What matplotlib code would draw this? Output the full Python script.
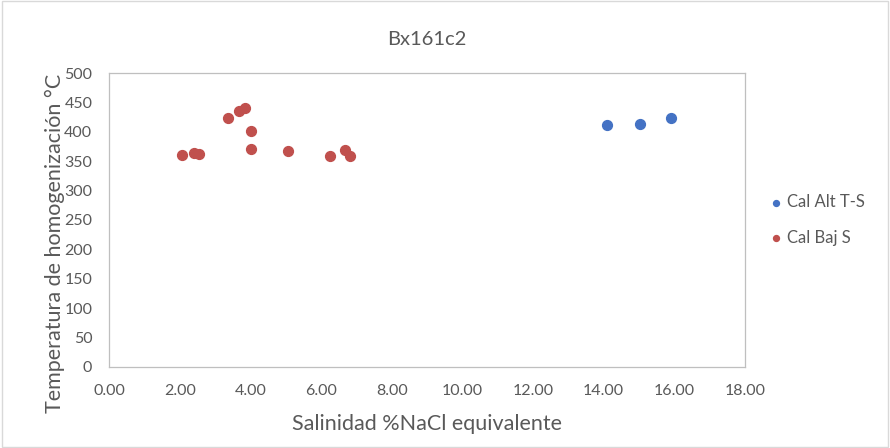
import matplotlib.pyplot as plt

plt.rcParams['font.family'] = ['Lato', 'DejaVu Sans']

# salinidad (% NaCl eq.) y temperatura de homogenizacion
alt_x = [14.10, 15.02, 15.90]
alt_y = [411, 413, 423]

baj_x = [2.07, 2.41, 2.55, 3.37, 3.68, 3.84, 4.01, 4.01, 5.08, 6.25, 6.68, 6.82]
baj_y = [360, 364, 362, 423, 435, 441, 402, 370, 367, 358, 369, 358]

gris = '#595959'

fig = plt.figure(figsize=(8.9, 4.48), dpi=100)
ax = fig.add_axes([0.1225, 0.181, 0.7145, 0.656])

ax.scatter(alt_x, alt_y, s=50, color='#4472C4', label='Cal Alt T-S', zorder=3)
ax.scatter(baj_x, baj_y, s=50, color='#C0504D', label='Cal Baj S', zorder=3)

ax.set_xlim(0, 18)
ax.set_ylim(0, 500)
ax.set_xticks(range(0, 19, 2))
ax.set_xticklabels([f'{v:.2f}' for v in range(0, 19, 2)])
ax.set_yticks(range(0, 501, 50))
ax.tick_params(length=0, labelsize=11.5, colors=gris)
ax.tick_params(axis='x', pad=12)
ax.tick_params(axis='y', pad=12)
for s in ax.spines.values():
    s.set_color('#bfbfbf')
    s.set_linewidth(0.9)

ax.set_title('Bx161c2', fontsize=14.5, color=gris, pad=20)
ax.set_xlabel('Salinidad %NaCl equivalente', fontsize=15.5, color=gris, labelpad=12)
ax.set_ylabel('Temperatura de homogenización °C', fontsize=15.5, color=gris)
ax.yaxis.set_label_coords(-0.07, 0.42)

leg = ax.legend(loc='center left', bbox_to_anchor=(1.035, 0.5), frameon=False,
                fontsize=12, handlelength=1.0, handletextpad=0.2, labelspacing=1.15,
                markerscale=0.6, borderaxespad=0, borderpad=0)
for t in leg.get_texts():
    t.set_color(gris)

# marco exterior del grafico
fig.patches.append(plt.Rectangle((0.002, 0.003), 0.996, 0.994, transform=fig.transFigure,
                                 fill=False, edgecolor='#d9d9d9', linewidth=1))

fig.savefig('out.png', dpi=100)
